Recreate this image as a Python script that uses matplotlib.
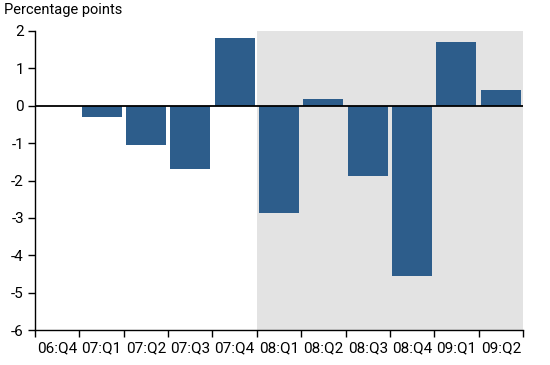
import matplotlib
matplotlib.use("Agg")
import matplotlib.pyplot as plt
import numpy as np

categories = ["06:Q4", "07:Q1", "07:Q2", "07:Q3", "07:Q4", "08:Q1", "08:Q2", "08:Q3", "08:Q4", "09:Q1", "09:Q2"]
values = [0.0, -0.3, -1.05, -1.7, 1.82, -2.87, 0.18, -1.88, -4.55, 1.71, 0.43]
yticks = [-6, -5, -4, -3, -2, -1, 0, 1, 2]
shade_start = "08:Q1"

plt.rcParams['font.family'] = ['Roboto', 'DejaVu Sans']
fig = plt.figure(figsize=(5.5, 3.65), dpi=100)
ax = fig.add_axes([35/550, 1-330/365, (523-35)/550, (330-31)/365])

x = np.arange(len(categories))
i0 = categories.index(shade_start)
ax.axvspan(i0 - 0.5, len(categories) - 0.5, color="#e3e3e3", lw=0, zorder=0)
ax.bar(x, values, width=0.9, color="#2d5d8b", zorder=2)
ax.axhline(0, color="black", lw=1.3, zorder=3)

ax.set_xlim(-0.5, len(categories) - 0.5)
ax.set_ylim(min(yticks), max(yticks))
ax.set_yticks(yticks)
ax.set_yticklabels([str(t) for t in yticks])
ax.set_xticks(x)
ax.set_xticklabels(categories)
ax.set_xticks(np.arange(-0.5, len(categories), 1.0), minor=True)
ax.tick_params(axis="x", which="major", length=0, pad=8, labelsize=11)
ax.tick_params(axis="x", which="minor", length=5, width=1, direction="out")
ax.tick_params(axis="y", length=5, width=1, labelsize=11, pad=3)
for s in ["top", "right"]:
    ax.spines[s].set_visible(False)
for s in ["left", "bottom"]:
    ax.spines[s].set_linewidth(1)
fig.text(4/550, 1-10/365, "Percentage points", fontsize=10.5, ha="left", va="center")
fig.savefig("out.png", dpi=100)
